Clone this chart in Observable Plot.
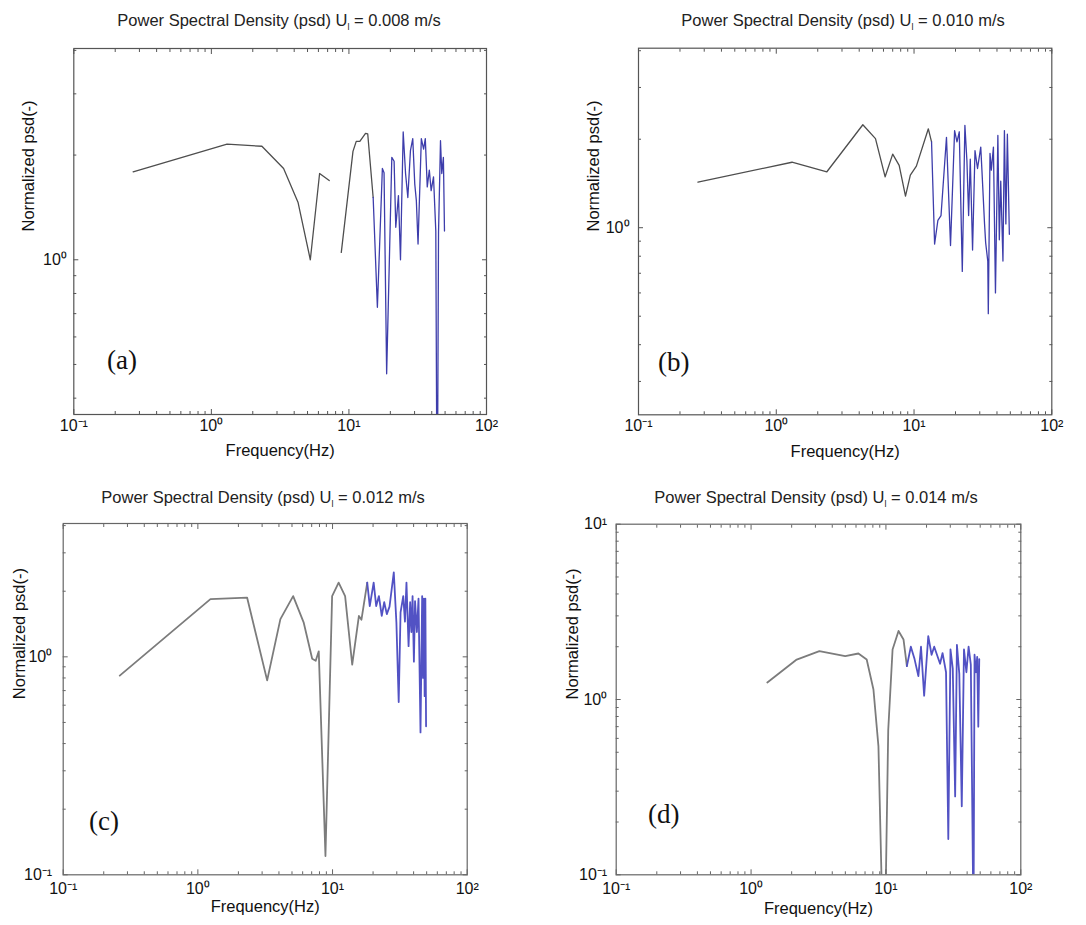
<!DOCTYPE html>
<html><head><meta charset="utf-8">
<script src="https://cdn.jsdelivr.net/npm/d3@7"></script>
<script src="https://cdn.jsdelivr.net/npm/@observablehq/plot@0.6"></script>
<style>
body{margin:0;background:#fff;}
#fig{position:relative;width:1086px;height:925px;overflow:hidden;font-family:"Liberation Sans",Arial,sans-serif;background:#fff;}
.panel{position:absolute;}
.panel svg{overflow:visible;}
.title{position:absolute;font-size:16.5px;color:#222;white-space:nowrap;transform:translate(-50%,-50%);line-height:1;}
.title sub{font-size:9px;vertical-align:-4px;}
.tag{position:absolute;font-family:"Liberation Serif","Times New Roman",serif;font-size:27px;color:#111;line-height:1;white-space:nowrap;}
</style></head><body><div id="fig"></div>
<script>
// ---- shared axis ticks ----
const xMajor = [0.1, 1, 10, 100];
const xMajorLabels = ["10⁻¹", "10⁰", "10¹", "10²"];
const xMinor = [0.2,0.3,0.4,0.5,0.6,0.7,0.8,0.9,2,3,4,5,6,7,8,9,20,30,40,50,60,70,80,90];
const yMinorAll = [0.2,0.3,0.4,0.5,0.6,0.7,0.8,0.9,2,3,4,5,6,7,8,9];

// ---- titles ----
const titles = ["0.008", "0.010", "0.012", "0.014"];
const tags = ["(a)", "(b)", "(c)", "(d)"];

// ---- panel (a) U = 0.008 m/s ----
const fa = [0.27,1.30,2.33,3.35,4.27,5.24,6.12,7.19,8.0,8.8,10.7,11.3,12.0,13.2,13.7,15.0,16.1,17.5,18.0,18.8,20.5,21.3,21.9,22.9,23.7,24.8,25.8,26.8,28.0,29.1,30.1,30.9,31.8,33.6,34.9,35.9,37.1,38.4,39.6,41.2,42.8,43.8,44.8,46.3,47.3,48.6,49.5];
const pa = [1.79,2.15,2.12,1.83,1.46,1.00,1.77,1.69,null,1.05,2.05,2.19,2.19,2.31,2.30,1.51,0.73,1.83,1.78,0.47,1.97,1.92,1.24,1.53,1.00,2.33,1.77,1.51,2.06,2.23,1.65,1.48,1.11,2.23,2.08,2.23,1.62,1.81,1.58,1.73,1.21,0.15,1.20,2.20,1.77,1.97,1.21];

// ---- panel (b) U = 0.010 m/s ----
const fb = [0.27,1.30,2.33,4.25,5.25,6.17,7.0,7.8,8.67,9.4,10.4,12.7,13.4,14.1,14.9,15.7,17.2,18.4,19.7,20.5,21.3,22.4,23.4,24.2,24.9,25.6,26.6,27.7,28.9,30.5,31.1,32.5,33.1,34.3,34.6,35.6,36.4,37.7,39.0,40.6,41.6,42.6,44.2,45.3,46.4,47.6,49.2];
const pb = [1.43,1.67,1.55,2.24,2.01,1.49,1.78,1.63,1.28,1.51,1.62,2.17,1.96,0.88,1.06,1.10,2.03,0.87,2.14,1.96,2.12,0.71,2.23,1.69,1.10,1.71,0.84,1.83,1.59,1.88,1.57,1.03,0.89,0.77,0.51,1.79,1.57,1.88,0.60,2.06,0.91,1.44,0.77,2.14,1.03,2.08,0.95];

// ---- panel (c) U = 0.012 m/s ----
const fc = [0.263,1.24,2.32,3.27,4.1,5.1,6.1,7.06,7.5,7.9,8.86,9.93,11.1,12.4,14.0,15.7,16.4,18.1,18.9,20.2,21.1,22.1,23.2,24.2,25.3,26.5,28.5,29.8,31.0,32.0,33.5,34.5,35.4,36.7,37.7,38.5,39.3,40.2,41.0,42.3,43.5,45.0,46.3,47.0,47.7,48.3,48.9,49.5];
const pc = [0.82,1.84,1.87,0.78,1.49,1.90,1.44,0.98,0.96,1.06,0.122,1.90,2.19,1.90,0.92,1.54,1.48,2.19,1.71,2.19,1.71,1.90,1.54,1.78,1.57,1.70,2.44,1.44,0.62,1.60,1.90,1.45,2.19,1.12,1.78,1.30,1.90,0.95,1.80,1.30,1.85,0.45,1.90,0.80,1.85,0.66,1.85,0.48];

// ---- panel (d) U = 0.014 m/s ----
const fd = [1.32,2.18,3.21,4.99,6.25,7.2,8.08,8.8,9.46,9.86,10.4,11.2,12.4,13.5,14.3,15.3,16.3,17.4,18.2,19.2,20.6,21.8,22.8,25.2,26.3,27.9,29.0,30.1,31.3,32.6,33.6,35.0,36.5,37.9,39.5,41.0,42.6,44.6,45.4,46.5,47.5,48.4,49.2];
const pd = [1.25,1.69,1.89,1.77,1.83,1.69,1.14,0.54,0.05,0.05,0.67,1.93,2.46,2.20,1.55,2.00,1.70,1.36,2.00,1.05,2.30,1.80,2.00,1.60,1.84,1.43,0.16,1.93,1.50,0.28,2.05,1.40,0.246,1.93,1.43,2.00,1.58,0.05,1.80,1.43,1.75,0.70,1.70];

const panels = [
  {freq: fa, psd: pa, split: 15.0, yDomain: [0.359, 4.05], yMajor: [1], yMajorLabels: ["10⁰"],
   origin: [0, 0], size: [543, 462], box: [73.3, 48, 486, 414],
   gray: "#4e4e4e", blue: "#3d3dab", sw: 1.3, frame: "#555",
   xPad: 5, yPad: 7, xLabDy: 41, yLabDx: -45, title: [279, 22], tag: [107, 347]},
  {freq: fb, psd: pb, split: 13.4, yDomain: [0.231, 4.08], yMajor: [1], yMajorLabels: ["10⁰"],
   origin: [543, 0], size: [543, 462], box: [638, 47.7, 1051.3, 414.3],
   gray: "#4e4e4e", blue: "#3d3dab", sw: 1.3, frame: "#555",
   xPad: 5, yPad: 9, xLabDy: 42, yLabDx: -45, title: [843, 22], tag: [658, 349]},
  {freq: fc, psd: pc, split: 18.1, yDomain: [0.1, 4.09], yMajor: [0.1, 1], yMajorLabels: ["10⁻¹", "10⁰"],
   origin: [0, 462], size: [543, 463], box: [62.7, 523, 466.7, 874.3],
   gray: "#7c7c7c", blue: "#5252c4", sw: 1.8, frame: "#666",
   xPad: 8, yPad: 11, xLabDy: 37, yLabDx: -43, title: [263, 499], tag: [89, 808]},
  {freq: fd, psd: pd, split: 14.3, yDomain: [0.1, 10], yMajor: [0.1, 1, 10], yMajorLabels: ["10⁻¹", "10⁰", "10¹"],
   origin: [543, 462], size: [543, 463], box: [615.7, 523.7, 1020.3, 874.3],
   gray: "#7c7c7c", blue: "#5252c4", sw: 1.8, frame: "#666",
   xPad: 8, yPad: 9, xLabDy: 39, yLabDx: -43, title: [816, 499], tag: [648, 801]}
];

const fig = document.getElementById("fig");

panels.forEach((p, k) => {
  const data = p.freq.map((f, i) => ({f, v: p.psd[i]}));
  const lo = data.filter(d => d.f <= p.split);
  const hi = data.filter(d => d.f >= p.split);
  const [ox, oy] = p.origin, [w, h] = p.size, [l, t, r, b] = p.box;
  const yMinor = yMinorAll.filter(v => v > p.yDomain[0] && v < p.yDomain[1]);
  const tickStyle = {stroke: p.frame, label: null};
  const chart = Plot.plot({
    width: w, height: h,
    marginLeft: l - ox, marginTop: t - oy, marginRight: ox + w - r, marginBottom: oy + h - b,
    x: {type: "log", domain: [0.1, 100], label: null},
    y: {type: "log", domain: p.yDomain, label: null},
    style: {fontFamily: "'Liberation Sans', Arial, sans-serif", fontSize: "16px", color: "#111", background: "transparent"},
    marks: [
      Plot.line(lo, {x: "f", y: "v", stroke: p.gray, strokeWidth: p.sw, clip: true}),
      Plot.line(hi, {x: "f", y: "v", stroke: p.blue, strokeWidth: p.sw, clip: true}),
      // inward ticks, all four sides
      Plot.axisX({ticks: xMinor, anchor: "bottom", tickSize: 3, dy: -3, tickFormat: () => "", ...tickStyle}),
      Plot.axisX({ticks: xMajor, anchor: "bottom", tickSize: 5, dy: -5, tickFormat: () => "", ...tickStyle}),
      Plot.axisX({ticks: xMinor, anchor: "top", tickSize: 3, dy: 3, tickFormat: () => "", ...tickStyle}),
      Plot.axisX({ticks: xMajor, anchor: "top", tickSize: 5, dy: 5, tickFormat: () => "", ...tickStyle}),
      Plot.axisY({ticks: yMinor, anchor: "left", tickSize: 3, dx: 3, tickFormat: () => "", ...tickStyle}),
      Plot.axisY({ticks: p.yMajor, anchor: "left", tickSize: 5, dx: 5, tickFormat: () => "", ...tickStyle}),
      Plot.axisY({ticks: yMinor, anchor: "right", tickSize: 3, dx: -3, tickFormat: () => "", ...tickStyle}),
      Plot.axisY({ticks: p.yMajor, anchor: "right", tickSize: 5, dx: -5, tickFormat: () => "", ...tickStyle}),
      // tick labels
      Plot.axisX({ticks: xMajor, anchor: "bottom", tickSize: 0, tickPadding: p.xPad, fontSize: 16,
        tickFormat: d => xMajorLabels[xMajor.indexOf(d)], label: null}),
      Plot.axisY({ticks: p.yMajor, anchor: "left", tickSize: 0, tickPadding: p.yPad, fontSize: 16,
        tickFormat: d => p.yMajorLabels[p.yMajor.indexOf(d)], label: null}),
      // axis titles
      Plot.text(["Frequency(Hz)"], {frameAnchor: "bottom", dy: p.xLabDy, text: d => d, fontSize: 16.5, fill: "#111"}),
      Plot.text(["Normalized psd(-)"], {frameAnchor: "left", dx: p.yLabDx, rotate: -90, text: d => d, fontSize: 16.5, fill: "#111"}),
      Plot.frame({stroke: p.frame, strokeWidth: 1.2})
    ]
  });
  const holder = document.createElement("div");
  holder.className = "panel";
  holder.style.left = ox + "px";
  holder.style.top = oy + "px";
  holder.appendChild(chart);
  fig.appendChild(holder);

  const ti = document.createElement("div");
  ti.className = "title";
  ti.style.left = p.title[0] + "px";
  ti.style.top = p.title[1] + "px";
  ti.innerHTML = "Power Spectral Density (psd) U<sub>l</sub> = " + titles[k] + " m/s";
  fig.appendChild(ti);

  const tg = document.createElement("div");
  tg.className = "tag";
  tg.style.left = p.tag[0] + "px";
  tg.style.top = p.tag[1] + "px";
  tg.textContent = tags[k];
  fig.appendChild(tg);
});
</script></body></html>
